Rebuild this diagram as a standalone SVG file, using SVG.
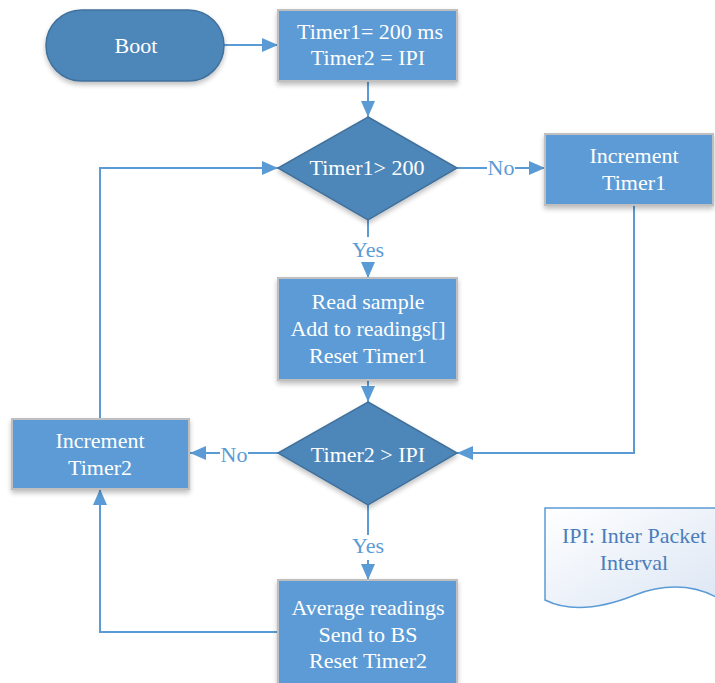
<svg xmlns="http://www.w3.org/2000/svg" width="715" height="683" viewBox="0 0 715 683" font-family="Liberation Serif, Times New Roman, serif">
  <defs>
    <filter id="shadow" x="-20%" y="-20%" width="140%" height="150%">
      <feGaussianBlur in="SourceAlpha" stdDeviation="2.5"/>
      <feOffset dx="0" dy="3" result="b"/>
      <feComponentTransfer><feFuncA type="linear" slope="0.25"/></feComponentTransfer>
      <feMerge><feMergeNode/><feMergeNode in="SourceGraphic"/></feMerge>
    </filter>
    <linearGradient id="docFill" x1="0" y1="0" x2="1" y2="1">
      <stop offset="0" stop-color="#FFFFFF"/>
      <stop offset="1" stop-color="#DCE6F4"/>
    </linearGradient>
    <marker id="arrowL" viewBox="0 0 16 14" refX="16" refY="7" markerWidth="16" markerHeight="14" markerUnits="userSpaceOnUse" orient="auto">
      <path d="M0,0 L16,7 L0,14 z" fill="#5B9BD5"/>
    </marker>
  </defs>
  <style>
    .box { fill: #5B9BD5; stroke: #BFBFBF; stroke-width: 2; filter: url(#shadow); }
    .dec { fill: #4E87BA; stroke: #41719C; stroke-width: 1.5; filter: url(#shadow); }
    .term { fill: #4E87BA; stroke: #41719C; stroke-width: 1.5; filter: url(#shadow); }
    .lbl { font-size: 22px; fill: #FFFFFF; text-anchor: middle; }
    .edge { fill: none; stroke: #5B9BD5; stroke-width: 2; marker-end: url(#arrowL); }
    .edge-plain { fill: none; stroke: #5B9BD5; stroke-width: 2; }
    .elbl { font-size: 22px; fill: #5B9BD5; text-anchor: middle; }
    .note { fill: url(#docFill); stroke: #5B9BD5; stroke-width: 1.5; }
    .notetxt { font-size: 22px; fill: #4A7EBB; text-anchor: middle; }
  </style>

  <!-- connectors -->
  <g id="connectors">
    <path class="edge" d="M224,45 H278"/>
    <path class="edge" d="M368,81 V117"/>
    <path class="edge-plain" d="M457,168 H487"/>
    <path class="edge" d="M515,168 H545"/>
    <text class="elbl" x="501" y="175">No</text>
    <path class="edge-plain" d="M368,220 V237"/>
    <text class="elbl" x="368" y="257">Yes</text>
    <path class="edge" d="M368,262 V278"/>
    <path class="edge" d="M368,380 V402"/>
    <path class="edge" d="M634,205 V453 H457"/>
    <path class="edge-plain" d="M278,453 H248"/>
    <path class="edge" d="M220,453 H190"/>
    <text class="elbl" x="234" y="462">No</text>
    <path class="edge-plain" d="M368,505 V535"/>
    <text class="elbl" x="368" y="553">Yes</text>
    <path class="edge" d="M368,560 V580"/>
    <path class="edge" d="M278,632 H100 V489"/>
    <path class="edge" d="M100,419 V168 H278"/>
  </g>

  <g id="boot">
    <rect class="term" x="46" y="10" width="178" height="71" rx="35.5" ry="35.5"/>
    <text class="lbl" x="136" y="53">Boot</text>
  </g>

  <g id="init">
    <rect class="box" x="278" y="10" width="179" height="71"/>
    <text class="lbl" x="370" y="39">Timer1= 200 ms</text>
    <text class="lbl" x="368" y="65">Timer2 = IPI</text>
  </g>

  <g id="check-timer1">
    <polygon class="dec" points="368,117 457,168 368,220 278,168"/>
    <text class="lbl" x="367" y="175">Timer1&gt; 200</text>
  </g>

  <g id="inc-timer1">
    <rect class="box" x="545" y="134" width="168" height="71"/>
    <text class="lbl" x="634" y="163">Increment</text>
    <text class="lbl" x="634" y="190">Timer1</text>
  </g>

  <g id="read-sample">
    <rect class="box" x="278" y="278" width="179" height="102"/>
    <text class="lbl" x="368" y="309">Read sample</text>
    <text class="lbl" x="368" y="336">Add to readings[]</text>
    <text class="lbl" x="368" y="363">Reset Timer1</text>
  </g>

  <g id="check-timer2">
    <polygon class="dec" points="368,402 457,453 368,505 278,453"/>
    <text class="lbl" x="368" y="462">Timer2 &gt; IPI</text>
  </g>

  <g id="inc-timer2">
    <rect class="box" x="12" y="419" width="177" height="70"/>
    <text class="lbl" x="100" y="448">Increment</text>
    <text class="lbl" x="100" y="475">Timer2</text>
  </g>

  <g id="send">
    <rect class="box" x="278" y="580" width="179" height="110"/>
    <text class="lbl" x="368" y="615">Average readings</text>
    <text class="lbl" x="368" y="642">Send to BS</text>
    <text class="lbl" x="368" y="668">Reset Timer2</text>
  </g>

  <g id="ipi-note">
    <path class="note" d="M545,508 H716 V597 C690,583 660,585 635,595 C610,605 575,615 545,600 Z"/>
    <text class="notetxt" x="634" y="543">IPI: Inter Packet</text>
    <text class="notetxt" x="634" y="570">Interval</text>
  </g>
</svg>
